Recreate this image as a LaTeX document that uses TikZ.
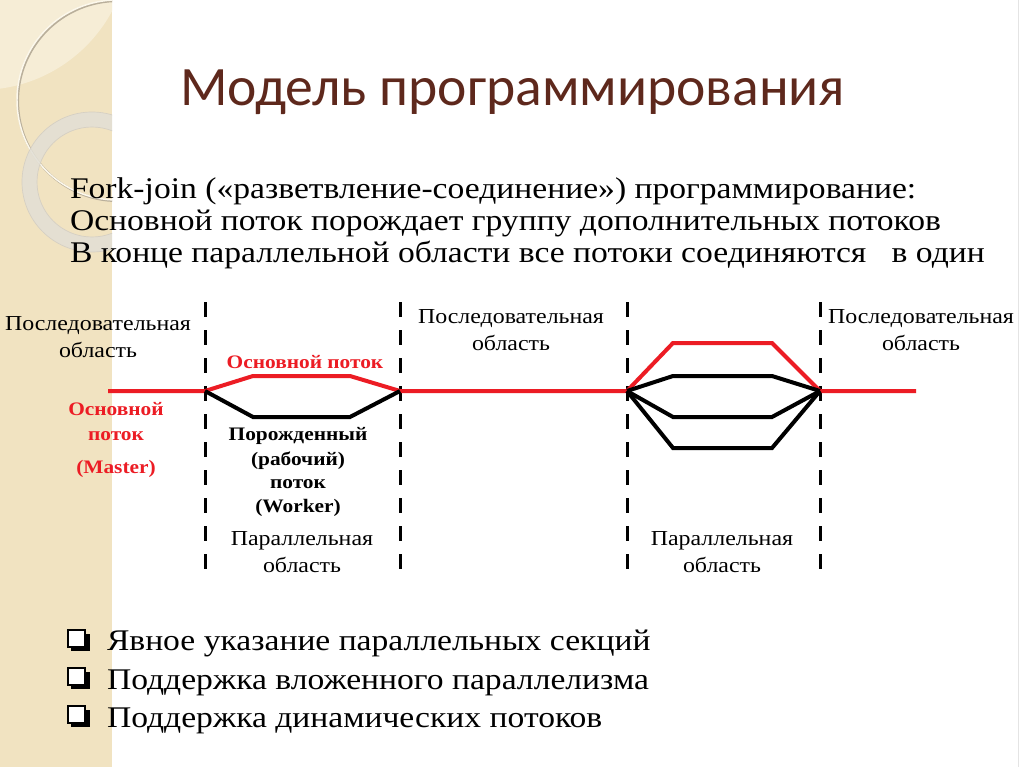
\documentclass[tikz,border=0pt]{standalone}
\usepackage{fontspec}
\setmainfont[FakeStretch=1.12]{Liberation Serif}
\newfontfamily\titlefont{Carlito}
\definecolor{band}{RGB}{241,227,193}
\definecolor{bandlight}{RGB}{246,237,214}
\definecolor{ringc}{RGB}{226,223,213}
\definecolor{arcc}{RGB}{252,248,236}
\definecolor{arcshadow}{RGB}{185,175,155}
\definecolor{titlebrown}{RGB}{94,40,28}
\definecolor{threadred}{RGB}{236,28,36}
\definecolor{edgegray}{RGB}{228,228,228}
\tikzset{
  every node/.style={inner sep=0pt, outer sep=0pt},
  bodytext/.style={anchor=base west, font=\fontsize{22.5}{27}\selectfont},
  bullettext/.style={anchor=base west, font=\fontsize{22.5}{27}\selectfont},
  lbl/.style={anchor=base, font=\fontsize{16}{19}\selectfont},
  redlbl/.style={anchor=base, font=\bfseries\fontsize{14.3}{17}\selectfont, text=threadred},
  blklbl/.style={anchor=base, font=\bfseries\fontsize{14.3}{17}\selectfont},
  redthread/.style={draw=threadred, line width=3pt},
  blkthread/.style={draw=black, line width=3pt},
  divider/.style={draw=black, line width=2.25pt, dash pattern=on 11.25pt off 9.75pt},
  qbox/.pic={
    \fill[black] (3,4) rectangle (22,21);
    \filldraw[fill=white, draw=black, line width=1pt] (0,0) rectangle (17,17);
  }
}
\begin{document}
\begin{tikzpicture}[x=0.75pt,y=-0.75pt]
\useasboundingbox (0,0) rectangle (1024,767);
\fill[white] (0,0) rectangle (1024,767);
% decorative band
\begin{scope}
  \clip (0,0) rectangle (112,767);
  \fill[band] (0,0) rectangle (112,767);
  \fill[bandlight] (-20,-60) circle[radius=112.5pt];
  \draw[arcshadow, line width=1.6pt] (118,101) circle[radius=75pt];
  \draw[arcc, line width=1.1pt] (117,100) circle[radius=75pt];
  \fill[ringc, opacity=0.85, even odd rule] (92,182) circle[radius=52.5pt] (92,182) circle[radius=41.25pt];
  \draw[arcshadow!60, line width=0.5pt] (92,182) circle[radius=52.5pt] (92,182) circle[radius=41.25pt];
\end{scope}
\draw[edgegray, line width=0.75pt] (1018,0) -- (1018,767);

% title
\node[anchor=base west, font=\titlefont\fontsize{41.7}{50}\selectfont, text=titlebrown] (title) at (180,105) {Модель программирования};

% body text
\node[bodytext] (b1) at (70,198) {Fork-join («разветвление-соединение») программирование:};
\node[bodytext] (b2) at (70,230) {Основной поток порождает группу дополнительных потоков};
\node[bodytext] (b3) at (70,262) {В конце параллельной области все потоки соединяются \ \ в один};

% coordinates of the threads
\coordinate (s0) at (108,391);
\coordinate (f1) at (205,391);
\coordinate (j1) at (400,391);
\coordinate (f2) at (627,391);
\coordinate (j2) at (820,391);
\coordinate (e0) at (916,391);
\coordinate (r1a) at (253,376); \coordinate (r1b) at (350,376);
\coordinate (k1a) at (253,417); \coordinate (k1b) at (350,417);
\coordinate (r2a) at (673,343); \coordinate (r2b) at (772,343);
\coordinate (k2a) at (673,376); \coordinate (k2b) at (772,376);
\coordinate (k3a) at (673,417); \coordinate (k3b) at (772,417);
\coordinate (k4a) at (673,448); \coordinate (k4b) at (772,448);

% dividers
\foreach \x/\n in {205/a,400/b,627/c,820/d}{
  \coordinate (t\n) at (\x,302);
  \coordinate (u\n) at (\x,580);
  \draw[divider] (t\n) -- (u\n);
}

% master thread
\draw[redthread] (s0) -- (f1) -- (r1a) -- (r1b) -- (j1) -- (f2) -- (r2a) -- (r2b) -- (j2) -- (e0);
% workers
\draw[blkthread] (f1) -- (k1a) -- (k1b) -- (j1);
\draw[blkthread] (f2) -- (k2a) -- (k2b) -- (j2);
\draw[blkthread] (f2) -- (k3a) -- (k3b) -- (j2);
\draw[blkthread] (f2) -- (k4a) -- (k4b) -- (j2);

% region labels
\node[lbl] (sq1a) at (98,330) {Последовательная};
\node[lbl] (sq1b) at (98,357) {область};
\node[lbl] (sq2a) at (511,323) {Последовательная};
\node[lbl] (sq2b) at (511,350) {область};
\node[lbl] (sq3a) at (921,323) {Последовательная};
\node[lbl] (sq3b) at (921,350) {область};
\node[lbl] (pa1a) at (302,545) {Параллельная};
\node[lbl] (pa1b) at (302,572) {область};
\node[lbl] (pa2a) at (722,545) {Параллельная};
\node[lbl] (pa2b) at (722,572) {область};

% thread labels
\node[redlbl] (mt) at (305,368) {Основной поток};
\node[redlbl] (ma) at (116,415) {Основной};
\node[redlbl] (mb) at (116,440) {поток};
\node[redlbl] (mc) at (116,473) {(Master)};
\node[blklbl] (wa) at (298,440) {Порожденный};
\node[blklbl] (wb) at (298,465) {(рабочий)};
\node[blklbl] (wc) at (298,488) {поток};
\node[blklbl] (wd) at (298,512) {(Worker)};

% bullets
\pic at (68,630) {qbox};
\pic at (68,668) {qbox};
\pic at (68,706) {qbox};
\node[bullettext] (q1) at (107,650) {Явное указание параллельных секций};
\node[bullettext] (q2) at (107,689) {Поддержка вложенного параллелизма};
\node[bullettext] (q3) at (107,727) {Поддержка динамических потоков};
\end{tikzpicture}
\end{document}
